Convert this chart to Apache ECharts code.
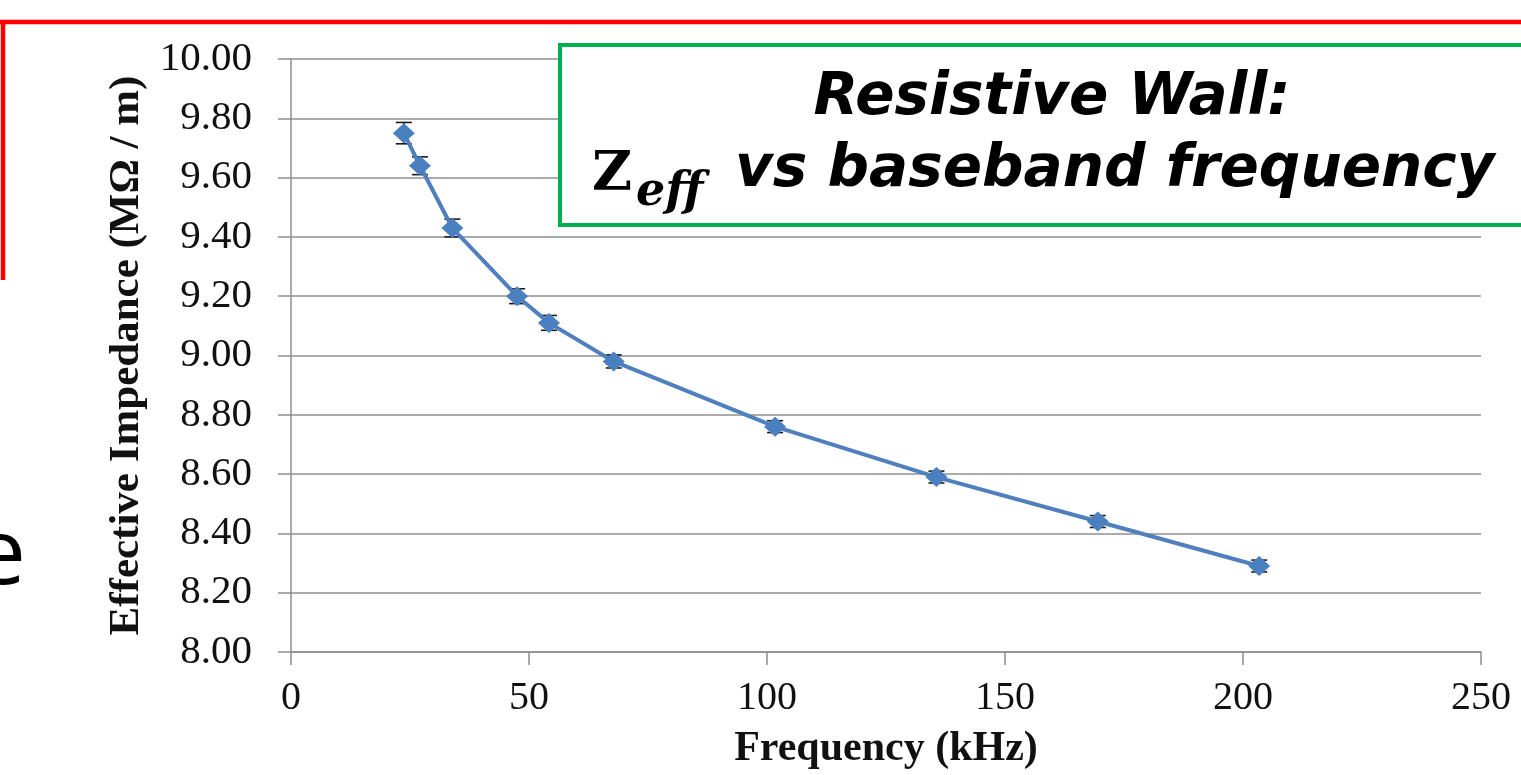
<!DOCTYPE html>
<html>
<head>
<meta charset="utf-8">
<script src="https://cdn.jsdelivr.net/npm/echarts@6/dist/echarts.min.js"></script>
<style>
  html, body { margin: 0; padding: 0; background: #fff; }
  #chart { width: 1521px; height: 775px; }
</style>
</head>
<body>
<div id="chart"></div>
<script>
// baseband frequency (kHz) and measured effective impedance (MOhm / m)
const frequency = [23.7, 27.1, 33.9, 47.5, 54.2, 67.8, 101.7, 135.6, 169.5, 203.4]
const impedance = [9.75, 9.64, 9.43, 9.20, 9.11, 8.98, 8.76, 8.59, 8.44, 8.29]
const errorBar = [0.036, 0.03, 0.03, 0.025, 0.025, 0.022, 0.02, 0.02, 0.02, 0.02]

const xTicks = [0, 50, 100, 150, 200, 250]
const yTicks = [8.0, 8.2, 8.4, 8.6, 8.8, 9.0, 9.2, 9.4, 9.6, 9.8, 10.0]

const gridColor = '#8f8f8f'
const blue = '#4a7fc0'

const chart = echarts.init(document.getElementById('chart'))

const option = {
  backgroundColor: '#fff',
  animation: false,
  grid: { left: 291, right: 40, top: 59, bottom: 120 },
  xAxis: {
    type: 'value',
    min: xTicks[0],
    max: xTicks[xTicks.length - 1],
    interval: 50,
    name: 'Frequency (kHz)',
    nameLocation: 'middle',
    nameGap: 76,
    nameTextStyle: { fontFamily: 'Liberation Serif', fontWeight: 'bold', fontSize: 42, color: '#111' },
    axisLine: { lineStyle: { color: gridColor, width: 1.5 } },
    axisTick: { length: 13, lineStyle: { color: gridColor, width: 1.5 } },
    axisLabel: { margin: 26, fontFamily: 'Liberation Serif', fontSize: 40, color: '#111' },
    splitLine: { show: false },
  },
  yAxis: {
    type: 'value',
    min: yTicks[0],
    max: yTicks[yTicks.length - 1],
    interval: 0.2,
    name: 'Effective Impedance (MΩ / m)',
    nameLocation: 'middle',
    nameGap: 141,
    nameTextStyle: { fontFamily: 'Liberation Serif', fontWeight: 'bold', fontSize: 43, color: '#111' },
    axisLine: { show: true, lineStyle: { color: gridColor, width: 1.5 } },
    axisTick: { show: true, length: 13, lineStyle: { color: gridColor, width: 1.5 } },
    axisLabel: {
      margin: 39,
      fontFamily: 'Liberation Serif',
      fontSize: 41,
      color: '#111',
      formatter: (v) => v.toFixed(2),
    },
    splitLine: { show: true, lineStyle: { color: gridColor, width: 1.5 } },
  },
  series: [
    {
      type: 'custom',
      name: 'error',
      z: 2,
      data: frequency.map((f, i) => [f, impedance[i], errorBar[i]]),
      renderItem: (params, api) => {
        const x = api.value(0)
        const y = api.value(1)
        const e = api.value(2)
        const hi = api.coord([x, y + e])
        const lo = api.coord([x, y - e])
        const w = 8
        const style = { stroke: '#1a1a1a', lineWidth: 1.6 }
        return {
          type: 'group',
          children: [
            { type: 'line', shape: { x1: hi[0], y1: hi[1], x2: lo[0], y2: lo[1] }, style },
            { type: 'line', shape: { x1: hi[0] - w, y1: hi[1], x2: hi[0] + w, y2: hi[1] }, style },
            { type: 'line', shape: { x1: lo[0] - w, y1: lo[1], x2: lo[0] + w, y2: lo[1] }, style },
          ],
        }
      },
    },
    {
      type: 'line',
      name: 'Zeff',
      z: 3,
      smooth: false,
      data: frequency.map((f, i) => [f, impedance[i]]),
      symbol: 'diamond',
      symbolSize: [22, 20],
      itemStyle: { color: blue },
      lineStyle: { color: '#4f80bd', width: 4 },
    },
  ],
  graphic: [
    // red slide frame
    { type: 'line', z: 10, shape: { x1: 0, y1: 22, x2: 1521, y2: 22 }, style: { stroke: '#ff0000', lineWidth: 4.5 } },
    { type: 'line', z: 10, shape: { x1: 3, y1: 20, x2: 3, y2: 280 }, style: { stroke: '#ff0000', lineWidth: 4.5 } },
    // fragment of slide text on the left
    { type: 'text', z: 10, style: { text: 'e', x: 26, y: 558, font: '92px "Open Sans"', fill: '#000', align: 'right', verticalAlign: 'middle' } },
    // green title box
    { type: 'rect', z: 10, shape: { x: 560, y: 45, width: 1000, height: 180 }, style: { fill: '#fff', stroke: '#00b050', lineWidth: 4 } },
    { type: 'text', z: 11, style: { text: 'Resistive Wall:', x: 1052, y: 99, font: 'italic bold 58px "DejaVu Sans"', fill: '#000', align: 'center', verticalAlign: 'middle' } },
    { type: 'text', z: 11, style: { text: 'Z', x: 592, y: 176, font: 'bold 55px "DejaVu Serif"', fill: '#000', align: 'left', verticalAlign: 'middle' } },
    { type: 'text', z: 11, style: { text: 'eff', x: 636, y: 193, font: 'italic bold 46px "DejaVu Serif"', fill: '#000', align: 'left', verticalAlign: 'middle' } },
    { type: 'text', z: 11, style: { text: 'vs baseband frequency', x: 735, y: 171, font: 'italic bold 58px "DejaVu Sans"', fill: '#000', align: 'left', verticalAlign: 'middle' } },
  ],
}

chart.setOption(option)
window.addEventListener('resize', () => chart.resize())
</script>
</body>
</html>
